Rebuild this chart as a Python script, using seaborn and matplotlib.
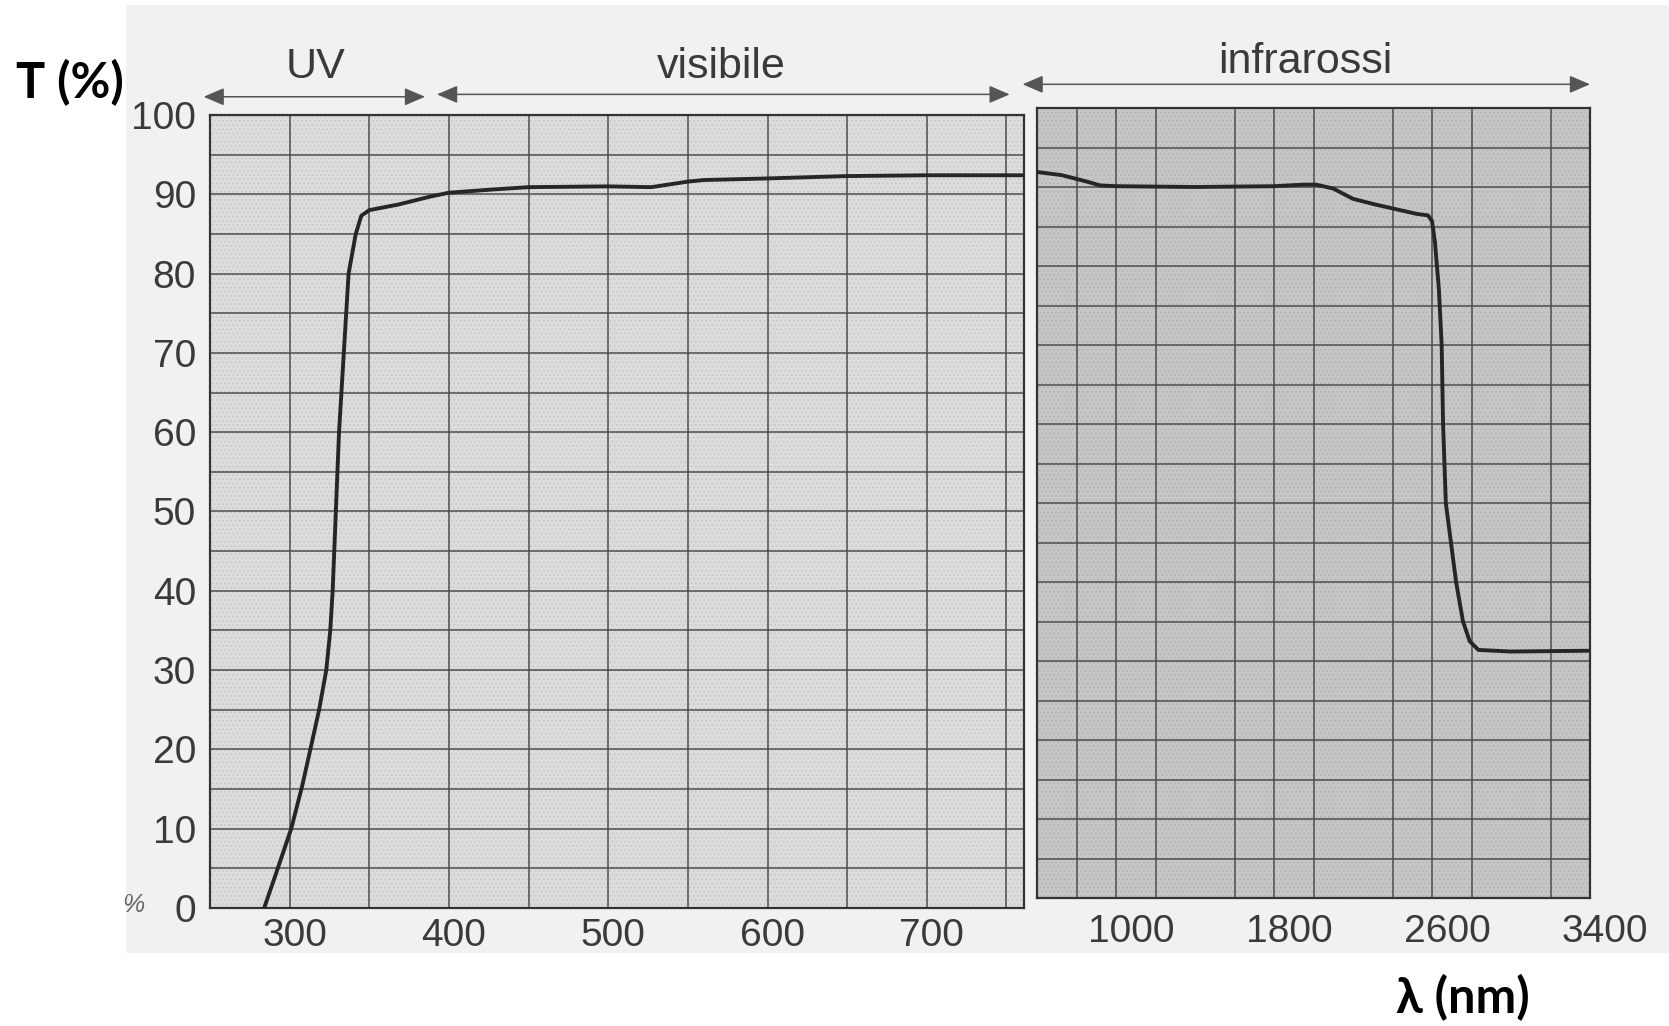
import matplotlib
matplotlib.use('Agg')
import matplotlib.pyplot as plt
import seaborn as sns
from matplotlib.patches import Rectangle
from matplotlib.ticker import MultipleLocator, FixedLocator
import matplotlib.transforms as mtrans

# ---------------- data ----------------
vis_wavelength = [284, 290, 301, 308, 313, 318.5, 323, 325.5, 327, 329, 331, 334, 337, 341.5,
                  345, 350, 355, 368, 388, 400, 427, 450, 500, 527, 550, 560, 600, 650, 700, 760]
vis_T = [0, 3.5, 10, 15.5, 20, 25, 30, 35, 40, 50, 60, 70, 80, 85,
         87.3, 88.0, 88.2, 88.7, 89.7, 90.2, 90.6, 90.9, 91.0, 90.9, 91.6, 91.8, 92.0, 92.3,
         92.4, 92.4]

ir_wavelength = [600, 725, 850, 920, 1000, 1400, 1800, 1950, 2013, 2100, 2200, 2310, 2522,
                 2580, 2600, 2615, 2635, 2649, 2656, 2670, 2696, 2722, 2757, 2791, 2835, 3000,
                 3400]
ir_T = [91.9, 91.5, 90.7, 90.2, 90.1, 90.0, 90.1, 90.3, 90.3, 89.8, 88.5, 87.8, 86.6,
        86.4, 85.7, 83, 77, 70, 60, 50, 45, 40, 35, 32.5, 31.4, 31.2, 31.3]

vis_ticks = [300, 400, 500, 600, 700]
ir_ticks = [1000, 1800, 2600, 3400]
y_ticks = [0, 10, 20, 30, 40, 50, 60, 70, 80, 90, 100]
band_labels = ["UV", "visibile", "infrarossi"]

# ---------------- style ----------------
sns.set_style('white')
plt.rcParams['font.family'] = ['Liberation Sans', 'DejaVu Sans']
plt.rcParams['hatch.linewidth'] = 0.6

W, H = 1669, 1026
fig = plt.figure(figsize=(W / 100, H / 100), dpi=100)
fig.patch.set_facecolor('white')
fig.add_artist(Rectangle((126 / W, 1 - 953 / H), (W - 126) / W, (953 - 5) / H,
                         transform=fig.transFigure, facecolor='#f1f1f1',
                         edgecolor='none', zorder=0))

axL = fig.add_axes([210 / W, 1 - 908 / H, (1024 - 210) / W, 793 / H])
axR = fig.add_axes([1037 / W, 1 - 898 / H, (1590 - 1037) / W, 790 / H])

grid_col = '#4d4d4d'
txt_col = '#3a3a3a'

for ax, face, hatch_col in [(axL, '#dcdcdc', '#c4c4c4'), (axR, '#c6c6c6', '#b0b0b0')]:
    ax.set_facecolor(face)
    ax.add_patch(Rectangle((0, 0), 1, 1, transform=ax.transAxes, facecolor='none',
                           edgecolor=hatch_col, hatch='....', lw=0, zorder=0.5))
    ax.set_ylim(0, 100)
    ax.yaxis.set_major_locator(FixedLocator(y_ticks))
    ax.yaxis.set_minor_locator(MultipleLocator(5))
    ax.grid(which='both', color=grid_col, lw=1.1, zorder=1)
    ax.set_axisbelow(True)
    for s in ax.spines.values():
        s.set_color('#333333')
        s.set_linewidth(1.6)
    ax.tick_params(which='both', length=0, labelsize=28, labelcolor=txt_col)
    ax.tick_params(axis='y', pad=10)

axL.tick_params(axis='x', pad=7.5)
axR.tick_params(axis='x', pad=11.5)

# left panel (UV + visible)
sns.lineplot(x=vis_wavelength, y=vis_T, ax=axL, color='#262626', lw=2.8,
             estimator=None, sort=False, zorder=5)
axL.set_xlim(250, 761)
axL.xaxis.set_major_locator(FixedLocator(vis_ticks))
axL.xaxis.set_minor_locator(MultipleLocator(50))
axL.set_xticklabels([str(v) for v in vis_ticks])
axL.set_yticklabels([str(v) for v in y_ticks])

# right panel (infrared)
sns.lineplot(x=ir_wavelength, y=ir_T, ax=axR, color='#262626', lw=2.8,
             estimator=None, sort=False, zorder=5)
axR.set_xlim(600, 3400)
axR.xaxis.set_major_locator(FixedLocator(ir_ticks))
axR.xaxis.set_minor_locator(MultipleLocator(400))
axR.set_xticklabels([str(v) for v in ir_ticks])
axR.tick_params(axis='y', labelleft=False)

for ax in (axL, axR):
    ax.set_xlabel('')
    ax.set_ylabel('')

# shift tick labels slightly right, as in the scan
offL = mtrans.ScaledTranslation(5 / 100, 0, fig.dpi_scale_trans)
offR = mtrans.ScaledTranslation(15 / 100, 0, fig.dpi_scale_trans)
for lbl in axL.get_xticklabels():
    lbl.set_transform(lbl.get_transform() + offL)
for lbl in axR.get_xticklabels():
    lbl.set_transform(lbl.get_transform() + offR)

# band arrows and labels
astyle = dict(arrowstyle='<|-|>,head_length=0.7,head_width=0.3', color='#555555',
              lw=1.1, mutation_scale=18, shrinkA=0, shrinkB=0)
tL = axL.get_xaxis_transform()
tR = axR.get_xaxis_transform()
axL.annotate('', xy=(246, 1.023), xytext=(385, 1.023), xycoords=tL, textcoords=tL,
             arrowprops=astyle, annotation_clip=False)
axL.annotate('', xy=(392.5, 1.026), xytext=(752, 1.026), xycoords=tL, textcoords=tL,
             arrowprops=astyle, annotation_clip=False)
axR.annotate('', xy=(527, 1.030), xytext=(3400, 1.030), xycoords=tR, textcoords=tR,
             arrowprops=astyle, annotation_clip=False)

axL.text(316, 1.06, band_labels[0], transform=tL, ha='center', va='center',
         fontsize=31, color=txt_col)
axL.text(571, 1.06, band_labels[1], transform=tL, ha='center', va='center',
         fontsize=31, color=txt_col)
axR.text(1957, 1.058, band_labels[2], transform=tR, ha='center', va='center',
         fontsize=31, color=txt_col)

# axis titles
fig.text(16 / W, 1 - 83 / H, 'T (%)', ha='left', va='center', fontsize=35,
         fontweight='bold', color='black', family=['Lato', 'DejaVu Sans'])
fig.text(1463 / W, 1 - 998 / H, 'λ (nm)', ha='center', va='center', fontsize=35,
         fontweight='bold', color='black', family=['Lato', 'DejaVu Sans'])
fig.text(133 / W, 1 - 905 / H, '%', ha='center', va='center', fontsize=18,
         style='italic', color='#666666')

fig.savefig('out.png', dpi=100, facecolor=fig.get_facecolor())
